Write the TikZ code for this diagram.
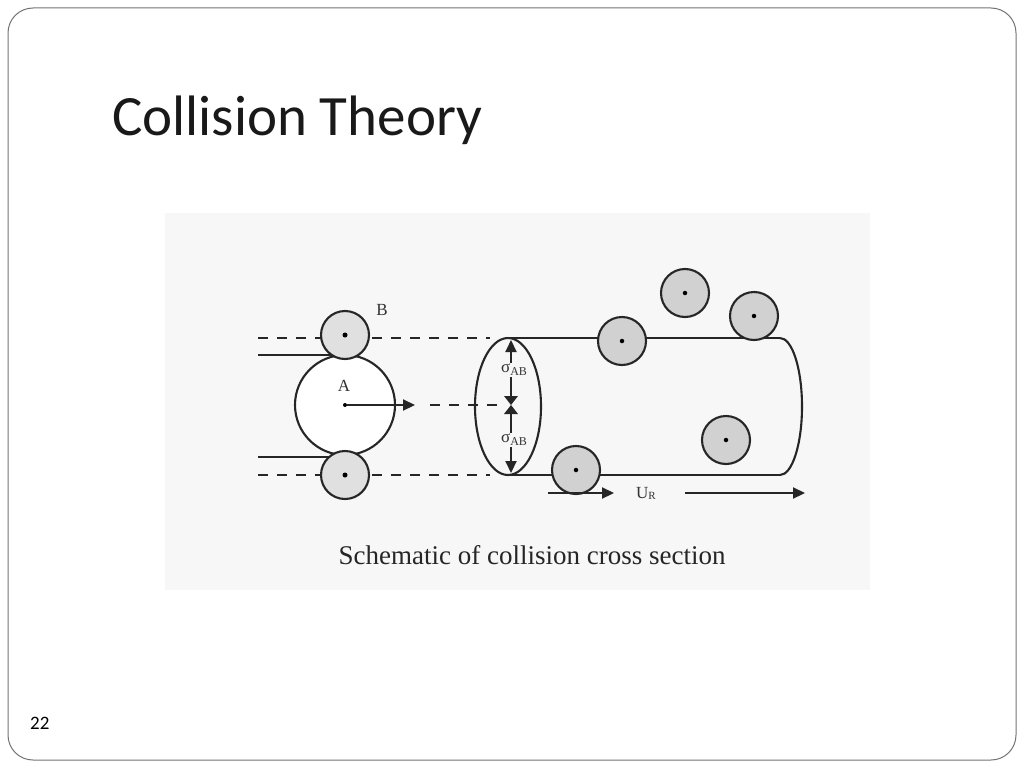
\documentclass[tikz,border=0pt]{standalone}
\usepackage{fontspec}
\setmainfont{Liberation Serif}
\newfontfamily\titlefont{Carlito}
\usetikzlibrary{arrows.meta}
\begin{document}
\begin{tikzpicture}[x=1pt,y=-1pt,
  ln/.style={line width=2.1pt,black!85},
  dsh/.style={line width=2.1pt,black!85,dash pattern=on 10pt off 9pt},
  mol/.style={circle,draw=black!85,line width=2.1pt,fill=black!18,minimum size=48pt,inner sep=0pt},
  dotc/.style={circle,fill=black,inner sep=0pt,minimum size=5pt},
  arr/.style={ln,-{Triangle[length=12pt,width=11pt]}},
  lbl/.style={font=\fontsize{17}{17}\selectfont,text=black!80}]
\useasboundingbox (0,0) rectangle (1024,768);
\draw[black!55,line width=1pt,rounded corners=25pt] (8,8) rectangle (1016,760);
\node[anchor=base west,font=\titlefont\fontsize{57}{57}\selectfont,text=black!90,inner sep=0pt] (title) at (112,135) {Collision Theory};
\node[anchor=base west,font=\titlefont\fontsize{19}{19}\selectfont,inner sep=0pt] (num) at (30,729) {22};
\fill[black!3] (165,213) rectangle (870,590);
% dashed lines
\draw[dsh] (258,338) -- (490,338);
\draw[dsh] (258,475) -- (490,475);
\draw[dsh] (430,405) -- (500,405);
% tangent lines
\draw[ln] (258,355) -- (345,355);
\draw[ln] (258,457) -- (345,457);
% A
\node[circle,draw=black!85,line width=2.1pt,fill=white,minimum size=100pt,inner sep=0pt] (A) at (345,405) {};
\node[mol,fill=black!12] (B1) at (345,335) {};
\node[mol,fill=black!12] (B2) at (345,475) {};
\node[dotc] at (B1) {};
\node[dotc] at (B2) {};
\node[dotc,minimum size=4pt] (Ac) at (A) {};
\draw[arr] (Ac) -- (415,405);
\node[lbl] (la) at (344,386) {A};
\node[lbl] (lb) at (382,310) {B};
% cylinder
\draw[ln] (508,338) -- (780,338);
\draw[ln] (508,475) -- (780,475);
\draw[ln] (780,338) arc[start angle=-90,end angle=90,x radius=22pt,y radius=-68.5pt];
\draw[ln] (508,406.5) ellipse[x radius=33pt,y radius=68.5pt];
% sigma arrows
\draw[arr] (511,396) -- (511,340);
\draw[arr] (511,414) -- (511,473);
\fill[black!85] (504,396) -- (518,396) -- (511,405) -- cycle;
\fill[black!85] (504,414) -- (518,414) -- (511,405) -- cycle;
\node[lbl,fill=black!3,inner sep=1pt] (s1) at (514,370) {σ\raisebox{-3pt}{\fontsize{12}{12}\selectfont AB}};
\node[lbl,fill=black!3,inner sep=1pt] (s2) at (514,440) {σ\raisebox{-3pt}{\fontsize{12}{12}\selectfont AB}};
% molecules
\foreach \n/\x/\y in {m1/622/341,m2/685/293,m3/754/316,m4/726/440,m5/576/470}{
  \node[mol] (\n) at (\x,\y) {};
  \node[dotc,minimum size=4.5pt] at (\n) {};
}
% U_R
\draw[arr] (548,493) -- (614,493);
\node[lbl] (ur) at (646,493) {U\raisebox{-1pt}{\fontsize{11}{11}\selectfont R}};
\draw[arr] (685,493) -- (805,493);
\node[font=\fontsize{27}{27}\selectfont,text=black!85] (cap) at (532,555) {Schematic of collision cross section};
\end{tikzpicture}
\end{document}
